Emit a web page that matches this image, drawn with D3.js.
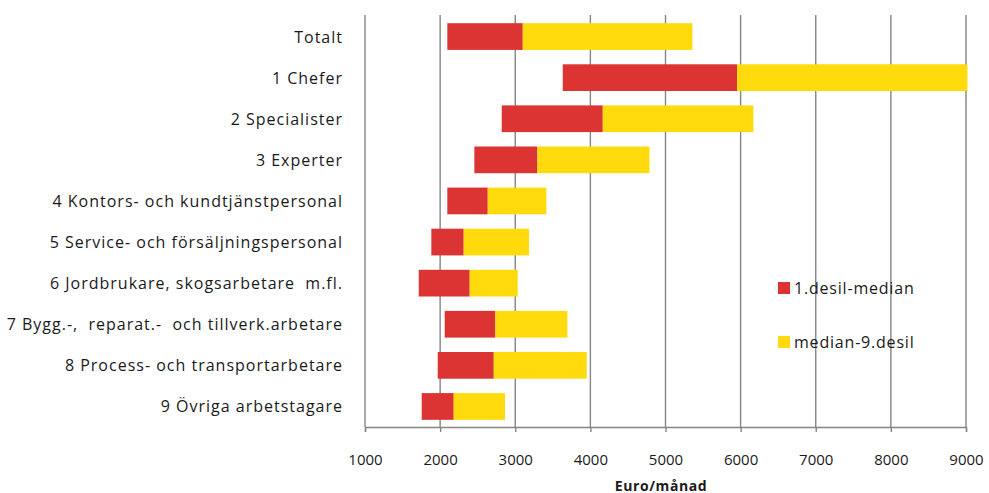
<!DOCTYPE html>
<html>
<head>
<meta charset="utf-8">
<script src="https://cdn.jsdelivr.net/npm/d3@7"></script>
<style>
  html, body { margin: 0; padding: 0; background: #fff; }
  svg { display: block; }
  text { font-family: "Open Sans", Lato, sans-serif; fill: #1a1a1a; }
</style>
</head>
<body>
<svg id="chart" width="989" height="493"></svg>
<script>
const categories = [
  "Totalt",
  "1 Chefer",
  "2 Specialister",
  "3 Experter",
  "4 Kontors- och kundtjänstpersonal",
  "5 Service- och försäljningspersonal",
  "6 Jordbrukare, skogsarbetare  m.fl.",
  "7 Bygg.-,  reparat.-  och tillverk.arbetare",
  "8 Process- och transportarbetare",
  "9 Övriga arbetstagare"
];
const decile1 = [2096, 3632, 2820, 2456, 2096, 1883, 1715, 2061, 1968, 1755];
const median  = [3100, 5953, 4165, 3295, 2634, 2314, 2394, 2735, 2714, 2181];
const decile9 = [5358, 9020, 6170, 4786, 3414, 3184, 3033, 3694, 3952, 2864];
const xTicks = [1000, 2000, 3000, 4000, 5000, 6000, 7000, 8000, 9000];
const seriesNames = ["1.desil-median", "median-9.desil"];
const colors = ["#dc3333", "#ffdb0e"];
const xTitle = "Euro/månad";

(function () {
const svg = d3.select("#chart");
const pLeft = 365, pRight = 966, pTop = 16, pBottom = 427;

const x = d3.scaleLinear().domain([1000, 9000]).range([pLeft, pRight]);
const y = d3.scaleBand().domain(categories).range([pTop, pBottom]).paddingInner(0.35).paddingOuter(0.175);

// gridlines
svg.append("g").selectAll("line").data(xTicks.slice(1)).join("line")
  .attr("x1", d => x(d)).attr("x2", d => x(d))
  .attr("y1", 15).attr("y2", pBottom)
  .attr("stroke", "#858585").attr("stroke-width", 1.4);

// bars
const rows = categories.map((c, i) => ({c, d1: decile1[i], m: median[i], d9: decile9[i]}));
const g = svg.append("g");
g.selectAll("rect.lo").data(rows).join("rect").attr("class", "lo")
  .attr("x", d => x(d.d1)).attr("width", d => x(d.m) - x(d.d1))
  .attr("y", d => y(d.c)).attr("height", y.bandwidth())
  .attr("fill", colors[0]);
g.selectAll("rect.hi").data(rows).join("rect").attr("class", "hi")
  .attr("x", d => x(d.m)).attr("width", d => x(d.d9) - x(d.m))
  .attr("y", d => y(d.c)).attr("height", y.bandwidth())
  .attr("fill", colors[1]);

// y axis line
svg.append("line").attr("x1", pLeft).attr("x2", pLeft).attr("y1", 15).attr("y2", pBottom)
  .attr("stroke", "#858585").attr("stroke-width", 1.4);

// x axis
const xAxis = svg.append("g").attr("transform", `translate(0,${pBottom})`)
  .call(d3.axisBottom(x).tickValues(xTicks).tickSize(5).tickPadding(22).tickFormat(d3.format("d")));
xAxis.select(".domain").attr("stroke", "#858585").attr("stroke-width", 1.4);
xAxis.selectAll(".tick line").attr("stroke", "#858585").attr("stroke-width", 1.4);
xAxis.selectAll(".tick text").style("font-size", "15px").style("font-family", "'Open Sans', sans-serif").attr("fill", "#1a1a1a");

// category labels
svg.append("g").selectAll("text").data(categories).join("text")
  .attr("x", 343).attr("y", d => y(d) + y.bandwidth() / 2)
  .attr("text-anchor", "end").attr("dominant-baseline", "central")
  .style("font-size", "16px").style("letter-spacing", "1px").style("white-space", "pre")
  .text(d => d);

// x title
svg.append("text").attr("x", 661).attr("y", 485)
  .attr("text-anchor", "middle").attr("dominant-baseline", "central")
  .style("font-size", "14px").style("font-weight", "bold").style("letter-spacing", "0.6px")
  .text(xTitle);

// legend
const lg = svg.append("g");
const legY = [288, 342];
seriesNames.forEach((s, i) => {
  lg.append("rect").attr("x", 778).attr("y", legY[i] - 6).attr("width", 12).attr("height", 12).attr("fill", colors[i]);
  lg.append("text").attr("x", 794).attr("y", legY[i]).attr("dominant-baseline", "central")
    .style("font-size", "16px").style("letter-spacing", "0.8px").text(s);
});
})();
</script>
</body>
</html>
